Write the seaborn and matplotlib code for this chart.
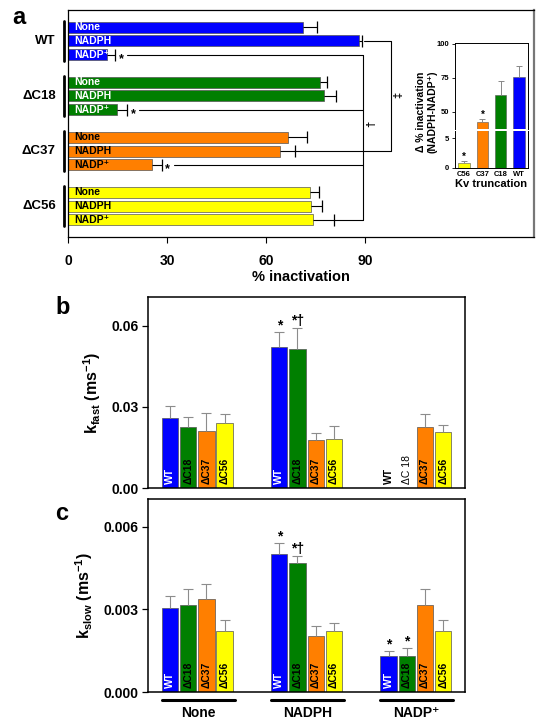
import numpy as np
import pandas as pd
import seaborn as sns
import matplotlib.pyplot as plt
from matplotlib import transforms

sns.set_style('ticks')
plt.rcParams['font.family'] = ['Liberation Sans', 'DejaVu Sans']
plt.rcParams['font.weight'] = 'bold'
plt.rcParams['mathtext.default'] = 'regular'
plt.rcParams['axes.edgecolor'] = 'black'
plt.rcParams['text.color'] = 'black'
plt.rcParams['axes.labelcolor'] = 'black'
plt.rcParams['xtick.color'] = 'black'
plt.rcParams['ytick.color'] = 'black'

strains = ['WT', 'ΔC18', 'ΔC37', 'ΔC56']
conditions = ['None', 'NADPH', 'NADP⁺']
palette = {'WT': '#0000FF', 'ΔC18': '#007F00', 'ΔC37': '#FF7F00', 'ΔC56': '#FFFF00'}
text_col_a = {'WT': 'white', 'ΔC18': 'white', 'ΔC37': 'black', 'ΔC56': 'black'}
text_col_bc = {'WT': 'white', 'ΔC18': 'black', 'ΔC37': 'black', 'ΔC56': 'black'}

# panel a: % inactivation (rows: None, NADPH, NADP+)
inact_wt = [71.2, 88.2, 11.8]
inact_c18 = [76.4, 77.6, 14.9]
inact_c37 = [66.5, 64.2, 25.3]
inact_c56 = [73.1, 73.5, 74.1]
inact_err_wt = [4.2, 0.9, 2.4]
inact_err_c18 = [2.1, 3.4, 3.1]
inact_err_c37 = [5.9, 4.6, 3.1]
inact_err_c56 = [2.7, 3.4, 6.3]

# inset: delta % inactivation
trunc_labels = ['C56', 'C37', 'C18', 'WT']
delta_inact = [0.9, 42.6, 62.5, 75.7]
delta_err = [0.3, 2.4, 10.3, 8.1]
trunc_colors = {'C56': '#FFFF00', 'C37': '#FF7F00', 'C18': '#007F00', 'WT': '#0000FF'}

# panel b: k_fast, per condition in strain order
kfast_none = [0.0260, 0.0226, 0.0211, 0.0241]
kfast_nadph = [0.0522, 0.0515, 0.0177, 0.0181]
kfast_nadp = [np.nan, np.nan, 0.0226, 0.0207]
kfast_err_none = [0.0044, 0.0037, 0.0066, 0.0032]
kfast_err_nadph = [0.0055, 0.0076, 0.0026, 0.0049]
kfast_err_nadp = [np.nan, np.nan, 0.0048, 0.0025]

# panel c: k_slow
kslow_none = [0.00304, 0.00316, 0.00336, 0.00223]
kslow_nadph = [0.00502, 0.00469, 0.00205, 0.00221]
kslow_nadp = [0.00130, 0.00132, 0.00315, 0.00220]
kslow_err_none = [0.00046, 0.00057, 0.00055, 0.00037]
kslow_err_nadph = [0.00038, 0.00024, 0.00034, 0.00028]
kslow_err_nadp = [0.00019, 0.00026, 0.00059, 0.00040]

W, H = 541, 722
fig = plt.figure(figsize=(W / 100, H / 100), dpi=100)


def px_axes(l, t, r, b):
    return fig.add_axes([l / W, 1 - b / H, (r - l) / W, (b - t) / H])


# ---------------- panel a ----------------
rows = []
inact = [inact_wt, inact_c18, inact_c37, inact_c56]
inact_err = [inact_err_wt, inact_err_c18, inact_err_c37, inact_err_c56]
for g, s in enumerate(strains):
    for i, c in enumerate(conditions):
        rows.append({'strain': s, 'cond': c, 'pos': g * 4 + i,
                     'value': inact[g][i], 'err': inact_err[g][i]})
df_a = pd.DataFrame(rows)

ax_a = px_axes(68, 10, 534, 237)
sns.barplot(data=df_a, x='value', y='pos', hue='strain', palette=palette, saturation=1,
            orient='h', native_scale=True, dodge=False, width=0.8,
            errorbar=None, legend=False, ax=ax_a, edgecolor='#555555', linewidth=0.5)
ax_a.hlines(df_a['pos'], df_a['value'], df_a['value'] + df_a['err'], color='black', lw=0.8)
ax_a.plot(df_a['value'] + df_a['err'], df_a['pos'], ls='none', marker='|',
          ms=8, mew=0.9, color='black')
ax_a.set_xlim(0, 141)
ax_a.set_ylim(15.25, -1.25)
ax_a.set_xticks([0, 30, 60, 90])
ax_a.set_yticks([])
ax_a.set_xlabel('% inactivation', fontsize=10.5, fontweight='bold', labelpad=2)
ax_a.set_ylabel('')
ax_a.tick_params(axis='x', labelsize=10, length=4, width=0.8, pad=8)
for sp in ax_a.spines.values():
    sp.set_linewidth(0.9)
ax_a.spines['right'].set_color('#777777')
ax_a.spines['right'].set_linewidth(1.6)

for _, r in df_a.iterrows():
    ax_a.text(1.8, r['pos'], r['cond'], ha='left', va='center', fontsize=7.5,
              fontweight='bold', color=text_col_a[r['strain']])

trans_a = transforms.blended_transform_factory(ax_a.transAxes, ax_a.transData)
for g, s in enumerate(strains):
    ax_a.plot([-0.009, -0.009], [g * 4 - 0.45, g * 4 + 2.45], color='black', lw=2,
              transform=trans_a, clip_on=False)
    ax_a.text(-0.026, g * 4 + 1, s, transform=trans_a, ha='right', va='center',
              fontsize=9.5, fontweight='bold')

# significance brackets
inner_x, outer_x = 89.3, 97.6
nadp = df_a[df_a['cond'] == 'NADP⁺']
for _, r in nadp.iterrows():
    end = r['value'] + r['err']
    if r['strain'] != 'ΔC56':
        ax_a.text(end + 1.8, r['pos'] + 0.3, '*', ha='center', va='center', fontsize=9)
        end += 3.6
    ax_a.plot([end, inner_x], [r['pos'], r['pos']], color='black', lw=0.8)
ax_a.plot([inner_x, inner_x], [nadp['pos'].min(), nadp['pos'].max()], color='black', lw=0.8)
wt_h = df_a[(df_a['strain'] == 'WT') & (df_a['cond'] == 'NADPH')].iloc[0]
c37_h = df_a[(df_a['strain'] == 'ΔC37') & (df_a['cond'] == 'NADPH')].iloc[0]
ax_a.plot([wt_h['value'] + wt_h['err'] + 0.4, outer_x, outer_x, c37_h['value'] + c37_h['err']],
          [wt_h['pos'], wt_h['pos'], c37_h['pos'], c37_h['pos']], color='black', lw=0.8)
ax_a.text(99.8, 4.9, '‡', rotation=90, ha='center', va='center', fontsize=8)
ax_a.text(91.6, 7.0, '†', rotation=90, ha='center', va='center', fontsize=8)

# ---------------- inset ----------------
df_in = pd.DataFrame({'trunc': trunc_labels, 'delta': delta_inact, 'err': delta_err})
ax_up = px_axes(455, 43, 528, 129)
ax_lo = px_axes(455, 131, 528, 168)
for ax in (ax_up, ax_lo):
    sns.barplot(data=df_in, x='trunc', y='delta', hue='trunc', palette=trunc_colors,
                saturation=1, order=trunc_labels, width=0.64, errorbar=None, legend=False,
                ax=ax, edgecolor='#555555', linewidth=0.4)
    ax.vlines(np.arange(len(trunc_labels)), df_in['delta'], df_in['delta'] + df_in['err'],
              color='#888888', lw=0.7)
    ax.plot(np.arange(len(trunc_labels)), df_in['delta'] + df_in['err'], ls='none',
            marker='_', ms=5, mew=0.7, color='#888888')
    ax.set_xlim(-0.5, 3.5)
    ax.set_xlabel('')
    ax.set_ylabel('')
    ax.tick_params(axis='y', labelsize=5.5, length=2, width=0.6, pad=2)
    for sp in ax.spines.values():
        sp.set_linewidth(0.7)
ax_up.set_ylim(37.5, 100.7)
ax_up.set_yticks([50, 75, 100])
ax_up.set_xticks([])
ax_up.spines['bottom'].set_visible(False)
ax_lo.set_ylim(0, 6.17)
ax_lo.set_yticks([0, 5])
ax_lo.spines['top'].set_visible(False)
ax_lo.tick_params(axis='x', labelsize=5.5, length=0, pad=2)
ax_lo.set_xlabel('Kv truncation', fontsize=8, fontweight='bold', labelpad=1)
for i, t in enumerate(trunc_labels):
    if t in ('C56', 'C37'):
        target = ax_lo if delta_inact[i] < 6 else ax_up
        target.annotate('*', (i, delta_inact[i] + delta_err[i]), xytext=(0, -1),
                        textcoords='offset points', ha='center', va='bottom', fontsize=7)
fig.text(421 / W, 1 - 112 / H, 'Δ % inactivation', rotation=90, ha='center', va='center',
         fontsize=7.5, fontweight='bold')
fig.text(433 / W, 1 - 112 / H, '(NADPH-NADP⁺)', rotation=90, ha='center', va='center',
         fontsize=7.5, fontweight='bold')


# ---------------- panels b and c ----------------
def long_table(groups, errs):
    out = []
    for g, c in enumerate(conditions):
        for i, s in enumerate(strains):
            out.append({'strain': s, 'cond': c, 'pos': g * 6 + i,
                        'value': groups[g][i], 'err': errs[g][i]})
    return pd.DataFrame(out)


df_b = long_table([kfast_none, kfast_nadph, kfast_nadp],
                  [kfast_err_none, kfast_err_nadph, kfast_err_nadp])
df_c = long_table([kslow_none, kslow_nadph, kslow_nadp],
                  [kslow_err_none, kslow_err_nadph, kslow_err_nadp])

ax_b = px_axes(148, 297, 465, 488)
ax_c = px_axes(148, 499, 465, 692)


def kin_panel(ax, df, ymax, ticks, ticklabels, ylabel, stars):
    d = df.dropna()
    sns.barplot(data=d, x='pos', y='value', hue='strain', palette=palette, saturation=1,
                hue_order=strains, native_scale=True, dodge=False, width=0.9,
                errorbar=None, legend=False, ax=ax, edgecolor='#555555', linewidth=0.5)
    ax.vlines(d['pos'], d['value'], d['value'] + d['err'], color='#8c8c8c', lw=0.8)
    ax.plot(d['pos'], d['value'] + d['err'], ls='none', marker='_', ms=7, mew=0.8,
            color='#8c8c8c')
    ax.set_xlim(-1.21, 16.2)
    ax.set_ylim(0, ymax)
    ax.set_xticks([])
    ax.set_yticks(ticks)
    ax.set_yticklabels(ticklabels)
    ax.set_xlabel('')
    ax.set_ylabel(ylabel, fontsize=11.5, fontweight='bold', labelpad=6)
    ax.tick_params(axis='y', labelsize=10, length=4, width=0.9, pad=3)
    for sp in ax.spines.values():
        sp.set_linewidth(1.1)
    tr = transforms.blended_transform_factory(ax.transData, ax.transAxes)
    for _, r in df.iterrows():
        present = not np.isnan(r['value'])
        col = text_col_bc[r['strain']] if present else 'black'
        wt = 'bold' if (present or r['strain'] == 'WT') else 'normal'
        lab = r['strain'] if present or r['strain'] == 'WT' else 'ΔC 18'
        ax.text(r['pos'], 0.02, lab, transform=tr, rotation=90, ha='center', va='bottom',
                fontsize=7.5, fontweight=wt, color=col)
    for (s, c), mark in stars.items():
        r = df[(df['strain'] == s) & (df['cond'] == c)].iloc[0]
        ax.annotate(mark, (r['pos'], r['value'] + r['err']), xytext=(0, 0),
                    textcoords='offset points', ha='center', va='bottom', fontsize=10)


kin_panel(ax_b, df_b, 0.0707, [0, 0.03, 0.06], ['0.00', '0.03', '0.06'],
          r'k$_{fast}$ (ms$^{-1}$)',
          {('WT', 'NADPH'): '*', ('ΔC18', 'NADPH'): '*†'})
kin_panel(ax_c, df_c, 0.00701, [0, 0.003, 0.006], ['0.000', '0.003', '0.006'],
          r'k$_{slow}$ (ms$^{-1}$)',
          {('WT', 'NADPH'): '*', ('ΔC18', 'NADPH'): '*†',
           ('WT', 'NADP⁺'): '*', ('ΔC18', 'NADP⁺'): '*'})

tr_c = transforms.blended_transform_factory(ax_c.transData, ax_c.transAxes)
for g, c in enumerate(conditions):
    ax_c.plot([g * 6 - 0.45, g * 6 + 3.55], [-0.042, -0.042], color='black', lw=2.2,
              transform=tr_c, clip_on=False)
    ax_c.text(g * 6 + 1.55, -0.075, c, transform=tr_c, ha='center', va='top',
              fontsize=10, fontweight='bold')

fig.text(12 / W, 1 - 17 / H, 'a', fontsize=17, fontweight='bold', va='center')
fig.text(55 / W, 1 - 307 / H, 'b', fontsize=17, fontweight='bold', va='center')
fig.text(55 / W, 1 - 513 / H, 'c', fontsize=17, fontweight='bold', va='center')

fig.savefig('out.png', dpi=100)
